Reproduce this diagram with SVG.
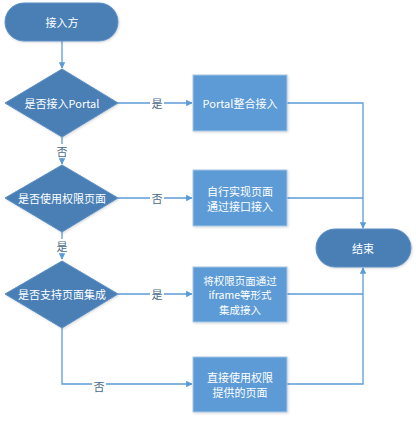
<svg xmlns="http://www.w3.org/2000/svg" width="416" height="421" viewBox="0 0 416 421">
<style>
.term{fill:#4a7fb5;stroke:#5a8fc4;stroke-width:1}
.dec{fill:#4a7fb5;stroke:#5a8fc4;stroke-width:1}
.box{fill:#5b9bd5;stroke:#a9c6e6;stroke-width:1}
.t{font-family:"Noto Sans CJK SC","Microsoft YaHei",sans-serif;font-size:11px;fill:#ffffff;text-anchor:middle;dominant-baseline:central}
.s{font-size:10.5px}
.c{fill:none;stroke:#5b9bd5;stroke-width:1.3}
.lb{font-family:"Noto Sans CJK SC",sans-serif;font-size:11px;fill:#4a6a8c;text-anchor:middle;dominant-baseline:central}
.lbg{fill:#ffffff}
</style>
<defs>
<marker id="ah" viewBox="0 0 10 10" refX="9" refY="5" markerWidth="6.5" markerHeight="6.5" markerUnits="userSpaceOnUse" orient="auto">
<path d="M0,0 L10,5 L0,10 z" fill="#5b9bd5"/>
</marker>
<filter id="sh" x="-10%" y="-10%" width="130%" height="130%">
<feDropShadow dx="1" dy="1" stdDeviation="1" flood-color="#000" flood-opacity="0.15"/>
</filter>
</defs>
<rect width="416" height="421" fill="#ffffff"/>
<g id="connectors">
<path class="c" d="M62,41 V68" marker-end="url(#ah)"/>
<path class="c" d="M118,103 H192" marker-end="url(#ah)"/>
<path class="c" d="M62,137 V164" marker-end="url(#ah)"/>
<path class="c" d="M118,198 H192" marker-end="url(#ah)"/>
<path class="c" d="M62,232 V259" marker-end="url(#ah)"/>
<path class="c" d="M118,294 H192" marker-end="url(#ah)"/>
<path class="c" d="M62,328 V384 H192" marker-end="url(#ah)"/>
<path class="c" d="M287,103 H363 V228" marker-end="url(#ah)"/>
<path class="c" d="M287,198 H363"/>
<path class="c" d="M287,294 H363"/>
<path class="c" d="M287,384 H363 V268" marker-end="url(#ah)"/>
<rect class="lbg" x="150" y="96" width="14" height="14"/>
<text class="lb" x="157" y="103">是</text>
<rect class="lbg" x="55" y="144" width="14" height="14"/>
<text class="lb" x="62" y="151">否</text>
<rect class="lbg" x="150" y="191" width="14" height="14"/>
<text class="lb" x="157" y="198">否</text>
<rect class="lbg" x="55" y="239" width="14" height="14"/>
<text class="lb" x="62" y="246">是</text>
<rect class="lbg" x="150" y="287" width="14" height="14"/>
<text class="lb" x="157" y="294">是</text>
<rect class="lbg" x="92" y="379" width="14" height="14"/>
<text class="lb" x="99" y="386">否</text>
</g>
<g id="start">
<rect class="term" x="5" y="3" width="113" height="38" rx="19" filter="url(#sh)"/>
<text class="t" x="62" y="22">接入方</text>
</g>
<g id="d1">
<polygon class="dec" points="62,69 118,103 62,137 5,103" filter="url(#sh)"/>
<text class="t" x="62" y="103">是否接入Portal</text>
</g>
<g id="d2">
<polygon class="dec" points="62,165 118,198 62,232 5,198" filter="url(#sh)"/>
<text class="t" x="62" y="198">是否使用权限页面</text>
</g>
<g id="d3">
<polygon class="dec" points="62,261 118,294 62,328 5,294" filter="url(#sh)"/>
<text class="t" x="62" y="294">是否支持页面集成</text>
</g>
<g id="r1">
<rect class="box" x="193" y="75" width="94" height="56" filter="url(#sh)"/>
<text class="t" x="240" y="103">Portal整合接入</text>
</g>
<g id="r2">
<rect class="box" x="193" y="170" width="94" height="56" filter="url(#sh)"/>
<text class="t" x="240" y="191">自行实现页面</text>
<text class="t" x="240" y="206">通过接口接入</text>
</g>
<g id="r3">
<rect class="box" x="193" y="267" width="94" height="55" filter="url(#sh)"/>
<text class="t s" x="240" y="280">将权限页面通过</text>
<text class="t s" x="240" y="294.5">iframe等形式</text>
<text class="t s" x="240" y="309">集成接入</text>
</g>
<g id="r4">
<rect class="box" x="193" y="357" width="94" height="55" filter="url(#sh)"/>
<text class="t" x="240" y="377">直接使用权限</text>
<text class="t" x="240" y="392">提供的页面</text>
</g>
<g id="end">
<rect class="term" x="316" y="229" width="95" height="38" rx="19" filter="url(#sh)"/>
<text class="t" x="363" y="248">结束</text>
</g>
</svg>
